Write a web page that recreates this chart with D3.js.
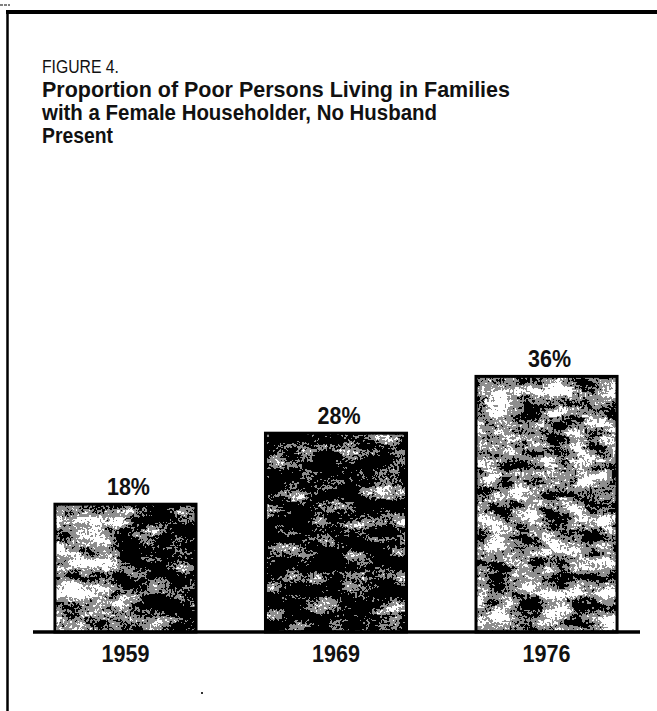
<!DOCTYPE html>
<html>
<head>
<meta charset="utf-8">
<script src="https://cdn.jsdelivr.net/npm/d3@7"></script>
<style>
  html, body { margin: 0; padding: 0; background: #fff; }
  svg { display: block; }
  text { font-family: "Liberation Sans", Arial, Helvetica, sans-serif; fill: #111; }
</style>
</head>
<body>
<script>
const years = ["1959", "1969", "1976"];
const values = [18, 28, 36];
const valueLabels = ["18%", "28%", "36%"];
const figureLabel = "FIGURE 4.";
const titleLines = [
  "Proportion of Poor Persons Living in Families",
  "with a Female Householder, No Husband",
  "Present"
];

const W = 657, H = 711;
const svg = d3.select("body").append("svg").attr("width", W).attr("height", H);
const defs = svg.append("defs");

// frame lines
svg.append("line").attr("x1", 6).attr("x2", W).attr("y1", 12).attr("y2", 12)
  .attr("stroke", "#000").attr("stroke-width", 4);
svg.append("line").attr("x1", 7.5).attr("x2", 7.5).attr("y1", 10).attr("y2", H)
  .attr("stroke", "#000").attr("stroke-width", 2.5);
svg.append("line").attr("x1", 0).attr("x2", 10).attr("y1", 5).attr("y2", 5)
  .attr("stroke", "#000").attr("stroke-width", 1).attr("stroke-dasharray", "3,1");

// title
svg.append("text").attr("x", 42).attr("y", 73)
  .attr("font-size", 19).attr("font-weight", 400)
  .attr("textLength", 77).attr("lengthAdjust", "spacingAndGlyphs")
  .text(figureLabel);
const titleWidths = [468, 395, 71];
titleLines.forEach((t, i) => {
  svg.append("text").attr("x", 42).attr("y", 97 + i * 23)
    .attr("font-size", 22).attr("font-weight", 700)
    .attr("textLength", titleWidths[i]).attr("lengthAdjust", "spacingAndGlyphs")
    .text(t);
});

// scales
const x = d3.scaleBand().domain(years).range([20, 652]).paddingInner(0.33).paddingOuter(0.166);
const y = d3.scaleLinear().domain([0, 40]).range([632, 348]);

// halftone-like texture filter
function makeFilter(id, seed) {
  const f = defs.append("filter").attr("id", id)
    .attr("x", 0).attr("y", 0).attr("width", 1).attr("height", 1)
    .attr("color-interpolation-filters", "sRGB");
  f.append("feTurbulence").attr("type", "fractalNoise").attr("baseFrequency", "0.035 0.07")
    .attr("numOctaves", 3).attr("seed", seed).attr("result", "low");
  f.append("feTurbulence").attr("type", "fractalNoise").attr("baseFrequency", 0.4)
    .attr("numOctaves", 2).attr("seed", seed + 7).attr("result", "high");
  const rm = "1 0 0 0 0  1 0 0 0 0  1 0 0 0 0  0 0 0 0 1";
  f.append("feColorMatrix").attr("in", "low").attr("type", "matrix").attr("values", rm).attr("result", "lowg");
  f.append("feColorMatrix").attr("in", "high").attr("type", "matrix").attr("values", rm).attr("result", "highg");
  // noise centred on 0.5 so it survives clamping
  f.append("feComposite").attr("in", "lowg").attr("in2", "highg").attr("operator", "arithmetic")
    .attr("k1", 0).attr("k2", 1.6).attr("k3", 0.9).attr("k4", -0.75).attr("result", "noise");
  f.append("feComposite").attr("in", "SourceGraphic").attr("in2", "noise").attr("operator", "arithmetic")
    .attr("k1", 0).attr("k2", 1).attr("k3", 1).attr("k4", -0.5).attr("result", "sum");
  const ct = f.append("feComponentTransfer").attr("in", "sum").attr("result", "q");
  ["feFuncR", "feFuncG", "feFuncB"].forEach(fn =>
    ct.append(fn).attr("type", "discrete").attr("tableValues", "0 0 0.56 0.56 1 1"));
  ct.append("feFuncA").attr("type", "linear").attr("slope", 0).attr("intercept", 1);
  f.append("feComposite").attr("in", "q").attr("in2", "SourceAlpha").attr("operator", "in");
}
makeFilter("tex0", 3);
makeFilter("tex1", 11);
makeFilter("tex2", 23);

// base tone gradients (darkness of each bar's screen)
const tones = [
  [["0%", "#a0a0a0"], ["35%", "#8e8e8e"], ["55%", "#505050"], ["75%", "#303030"], ["100%", "#2c2c2c"]],
  [["0%", "#303030"], ["75%", "#343434"], ["100%", "#545454"]],
  [["0%", "#808080"], ["100%", "#7a7a7a"]]
];
tones.forEach((stops, i) => {
  const g = defs.append("linearGradient").attr("id", "tone" + i)
    .attr("x1", "0%").attr("x2", "100%").attr("y1", "0%").attr("y2", "0%");
  stops.forEach(s => g.append("stop").attr("offset", s[0]).attr("stop-color", s[1]));
});

const data = years.map((yr, i) => ({ year: yr, value: values[i], label: valueLabels[i], i }));

const bars = svg.append("g");
bars.selectAll("rect.fill").data(data).join("rect").attr("class", "fill")
  .attr("x", d => x(d.year)).attr("y", d => y(d.value))
  .attr("width", x.bandwidth()).attr("height", d => y(0) - y(d.value))
  .attr("fill", d => `url(#tone${d.i})`)
  .attr("filter", d => `url(#tex${d.i})`);
bars.selectAll("rect.outline").data(data).join("rect").attr("class", "outline")
  .attr("x", d => x(d.year)).attr("y", d => y(d.value))
  .attr("width", x.bandwidth()).attr("height", d => y(0) - y(d.value))
  .attr("fill", "none").attr("stroke", "#000").attr("stroke-width", 3);

// value labels
svg.selectAll("text.val").data(data).join("text").attr("class", "val")
  .attr("x", d => x(d.year) + x.bandwidth() / 2 + 3)
  .attr("y", d => y(d.value) - 9)
  .attr("text-anchor", "middle").attr("font-size", 23).attr("font-weight", 700)
  .attr("textLength", 43).attr("lengthAdjust", "spacingAndGlyphs")
  .text(d => d.label);

// baseline axis
const axis = svg.append("g").attr("transform", `translate(0,${y(0)})`)
  .call(d3.axisBottom(x).tickSize(0).tickPadding(14));
axis.select(".domain").attr("d", "M33,0H640").attr("stroke", "#000").attr("stroke-width", 3.5);
axis.selectAll(".tick text")
  .attr("font-size", 23).attr("font-weight", 700)
  .attr("font-family", "'Liberation Sans', Arial, sans-serif").attr("fill", "#111")
  .attr("textLength", 48).attr("lengthAdjust", "spacingAndGlyphs");

// stray dot from scan
svg.append("rect").attr("x", 201).attr("y", 692).attr("width", 2).attr("height", 2).attr("fill", "#333");
</script>
</body>
</html>
